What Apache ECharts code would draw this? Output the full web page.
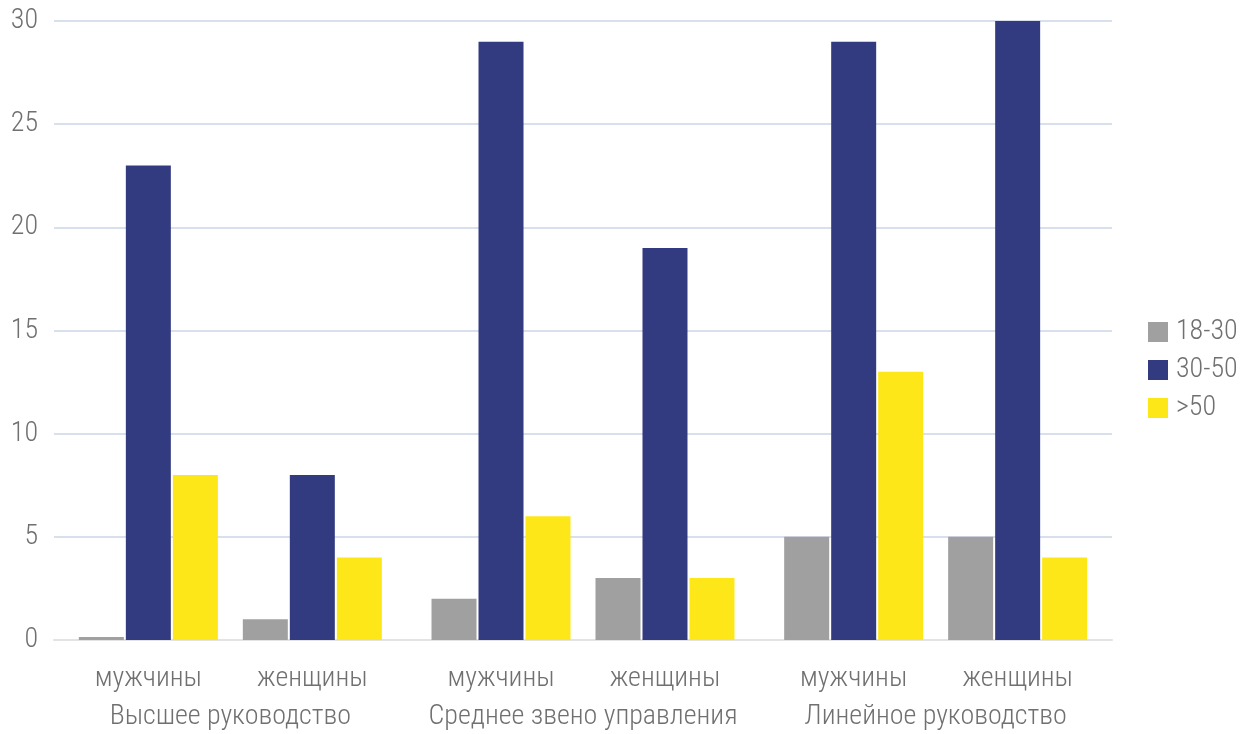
<!DOCTYPE html>
<html><head><meta charset="utf-8">
<script src="https://cdn.jsdelivr.net/npm/echarts@6/dist/echarts.min.js"></script>
<style>html,body{margin:0;padding:0;background:#fff}#c{width:1240px;height:734px}</style>
</head><body><div id="c"></div>
<script>
const groups = ['Высшее руководство', 'Среднее звено управления', 'Линейное руководство'];
const genders = ['мужчины', 'женщины'];
const ageNames = ['18-30', '30-50', '>50'];
const yTicks = [0, 5, 10, 15, 20, 25, 30];
// values per group: men
const men18 = [0.15, 2, 5];
const men30 = [23, 29, 29];
const men50 = [8, 6, 13];
// women
const women18 = [1, 3, 5];
const women30 = [8, 19, 30];
const women50 = [4, 3, 4];

const colors = ['#9fa09f', '#333b80', '#fde718'];
const FONT = '"Roboto Condensed", "Liberation Sans Narrow", "DejaVu Sans Condensed", sans-serif';
const FW = 300;
const TXT = '#707070';
const FS = 28;
const BW = 45;

function bar(name, data, color) {
  return { type: 'bar', name, data, barWidth: BW, barGap: (2 / BW * 100) + '%',
    itemStyle: { color }, emphasis: { disabled: true } };
}
const series = [
  bar(ageNames[0], men18, colors[0]),
  bar(ageNames[1], men30, colors[1]),
  bar(ageNames[2], men50, colors[2]),
  { type: 'bar', name: 'spacer', data: [null, null, null], barWidth: 22, barGap: (2 / BW * 100) + '%', silent: true },
  bar(ageNames[0], women18, colors[0]),
  bar(ageNames[1], women30, colors[1]),
  bar(ageNames[2], women50, colors[2])
];

const chart = echarts.init(document.getElementById('c'));
chart.setOption({
  animation: false,
  textStyle: { fontFamily: FONT, fontWeight: FW },
  grid: { left: 54, right: 128, top: 21, bottom: 94, containLabel: false },
  legend: {
    data: ageNames, orient: 'vertical', left: 1148, top: 318, padding: 0,
    icon: 'rect', itemWidth: 20, itemHeight: 20, itemGap: 10,
    textStyle: { fontFamily: FONT, fontWeight: FW, fontSize: FS, color: TXT, padding: [0, 0, 0, 3] }
  },
  xAxis: {
    type: 'category', data: groups,
    axisLine: { lineStyle: { color: '#e3e3e3', width: 2 } },
    axisTick: { show: false },
    axisLabel: {
      interval: 0, margin: 20,
      formatter: function (v) {
        return '{g|' + genders[0] + '}{g|' + genders[1] + '}\n{t|' + v + '}';
      },
      rich: {
        g: { width: 164, align: 'center', fontFamily: FONT, fontWeight: FW, fontSize: FS, color: TXT, lineHeight: 38 },
        t: { fontFamily: FONT, fontWeight: FW, fontSize: FS, color: TXT, lineHeight: 38, align: 'center' }
      }
    }
  },
  yAxis: {
    type: 'value', min: yTicks[0], max: yTicks[yTicks.length - 1], interval: 5,
    axisLine: { show: false }, axisTick: { show: false },
    axisLabel: { fontFamily: FONT, fontWeight: FW, fontSize: FS, color: TXT, margin: 16 },
    splitLine: { lineStyle: { color: '#cbd6e9', width: 1.5 } }
  },
  series
});
</script></body></html>
